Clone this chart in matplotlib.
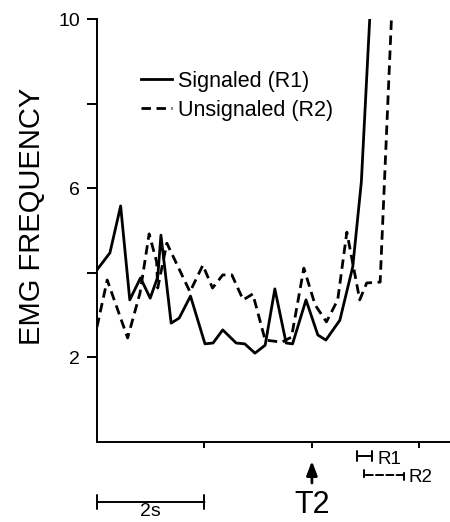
import matplotlib
matplotlib.use("Agg")
import matplotlib.pyplot as plt

plt.rcParams['font.family'] = ['Liberation Sans', 'DejaVu Sans']

# time in seconds, EMG frequency
sig_t = [0.00, 0.24, 0.44, 0.61, 0.81, 0.99, 1.13, 1.19, 1.38, 1.53, 1.74, 2.01,
         2.16, 2.34, 2.59, 2.75, 2.94, 3.13, 3.31, 3.52, 3.64, 3.89, 4.11, 4.26,
         4.52, 4.76, 4.92, 5.10]
sig_y = [4.07, 4.47, 5.58, 3.36, 3.88, 3.40, 3.90, 4.89, 2.81, 2.93, 3.45, 2.32,
         2.34, 2.65, 2.34, 2.32, 2.10, 2.29, 3.62, 2.34, 2.32, 3.36, 2.53, 2.41,
         2.88, 4.14, 6.15, 10.6]

uns_t = [0.00, 0.19, 0.57, 0.80, 0.97, 1.11, 1.13, 1.30, 1.73, 1.97, 2.15, 2.34,
         2.51, 2.72, 2.90, 3.13, 3.44, 3.62, 3.85, 4.06, 4.27, 4.48, 4.65, 4.76,
         4.89, 5.02, 5.27, 5.50]
uns_y = [2.72, 3.83, 2.46, 3.52, 4.92, 4.26, 3.64, 4.70, 3.55, 4.18, 3.64, 3.95,
         3.95, 3.36, 3.50, 2.41, 2.36, 2.48, 4.11, 3.24, 2.84, 3.36, 4.96, 4.23,
         3.36, 3.76, 3.78, 10.6]

labels = ['Signaled (R1)', 'Unsignaled (R2)']
yticks = [2, 4, 6, 8, 10]
ytick_labels = ['2', '', '6', '', '10']
xticks = [2, 4, 6]

W, H = 450, 522
fig = plt.figure(figsize=(W / 100, H / 100), dpi=100)
ax = fig.add_axes([97 / W, 80 / H, 353 / W, 423 / H])

lw = 2.0
ax.plot(sig_t, sig_y, color='black', lw=lw, label=labels[0])
ax.plot(uns_t, uns_y, color='black', lw=lw, linestyle=(0, (3.4, 2.0)), label=labels[1])

ax.set_xlim(0, 6.57)
ax.set_ylim(0, 10)
for s in ['top', 'right']:
    ax.spines[s].set_visible(False)
for s in ['left', 'bottom']:
    ax.spines[s].set_linewidth(1.4)

ax.set_yticks(yticks)
ax.set_yticklabels(ytick_labels)
ax.set_xticks(xticks)
ax.set_xticklabels([])
ax.tick_params(axis='y', length=7, width=1.4, direction='out', labelsize=14, pad=5)
ax.tick_params(axis='x', length=4.5, width=1.4, direction='out')

leg = ax.legend(loc='upper left', bbox_to_anchor=(0.125, 0.878), frameon=False,
                fontsize=15.5, handlelength=1.45, handletextpad=0.25,
                labelspacing=0.38, borderpad=0, borderaxespad=0)

fig.text(32 / W, 1 - 216 / H, 'EMG FREQUENCY', rotation=90, ha='center', va='center',
         fontsize=21)

# T2 marker
ax.annotate('', xy=(4, 61), xytext=(4, 39), xycoords=('data', 'figure pixels'),
            textcoords=('data', 'figure pixels'),
            arrowprops=dict(arrowstyle='-|>,head_length=0.42,head_width=0.16', color='black',
                            lw=2, shrinkA=0, shrinkB=0, mutation_scale=20),
            annotation_clip=False)
ax.annotate('T2', xy=(4, 9), xycoords=('data', 'figure pixels'), ha='center', va='baseline',
            fontsize=22, annotation_clip=False)

# 2 s scale bar
ax.annotate('', xy=(0, 20), xytext=(2, 20), xycoords=('data', 'figure pixels'),
            textcoords=('data', 'figure pixels'),
            arrowprops=dict(arrowstyle='|-|,widthA=0.25,widthB=0.25', color='black', lw=1.4,
                            shrinkA=0, shrinkB=0, mutation_scale=20),
            annotation_clip=False)
ax.annotate('2s', xy=(1, 6), xycoords=('data', 'figure pixels'), ha='center', va='baseline',
            fontsize=14, annotation_clip=False)

# R1 / R2 latency brackets
ax.annotate('', xy=(4.84, 66), xytext=(5.12, 66), xycoords=('data', 'figure pixels'),
            textcoords=('data', 'figure pixels'),
            arrowprops=dict(arrowstyle='|-|,widthA=0.18,widthB=0.18', color='black', lw=1.4,
                            shrinkA=0, shrinkB=0, mutation_scale=20),
            annotation_clip=False)
ax.annotate('R1', xy=(5.22, 63), xycoords=('data', 'figure pixels'), ha='left', va='center',
            fontsize=13.5, annotation_clip=False)
ax.annotate('', xy=(4.97, 47), xytext=(5.71, 47), xycoords=('data', 'figure pixels'),
            textcoords=('data', 'figure pixels'),
            arrowprops=dict(arrowstyle='|-|,widthA=0.18,widthB=0.18', color='black', lw=1.4,
                            linestyle='--', shrinkA=0, shrinkB=0, mutation_scale=20),
            annotation_clip=False)
ax.annotate('R2', xy=(5.8, 45), xycoords=('data', 'figure pixels'), ha='left', va='center',
            fontsize=13.5, annotation_clip=False)

fig.savefig('out.png', dpi=100)
